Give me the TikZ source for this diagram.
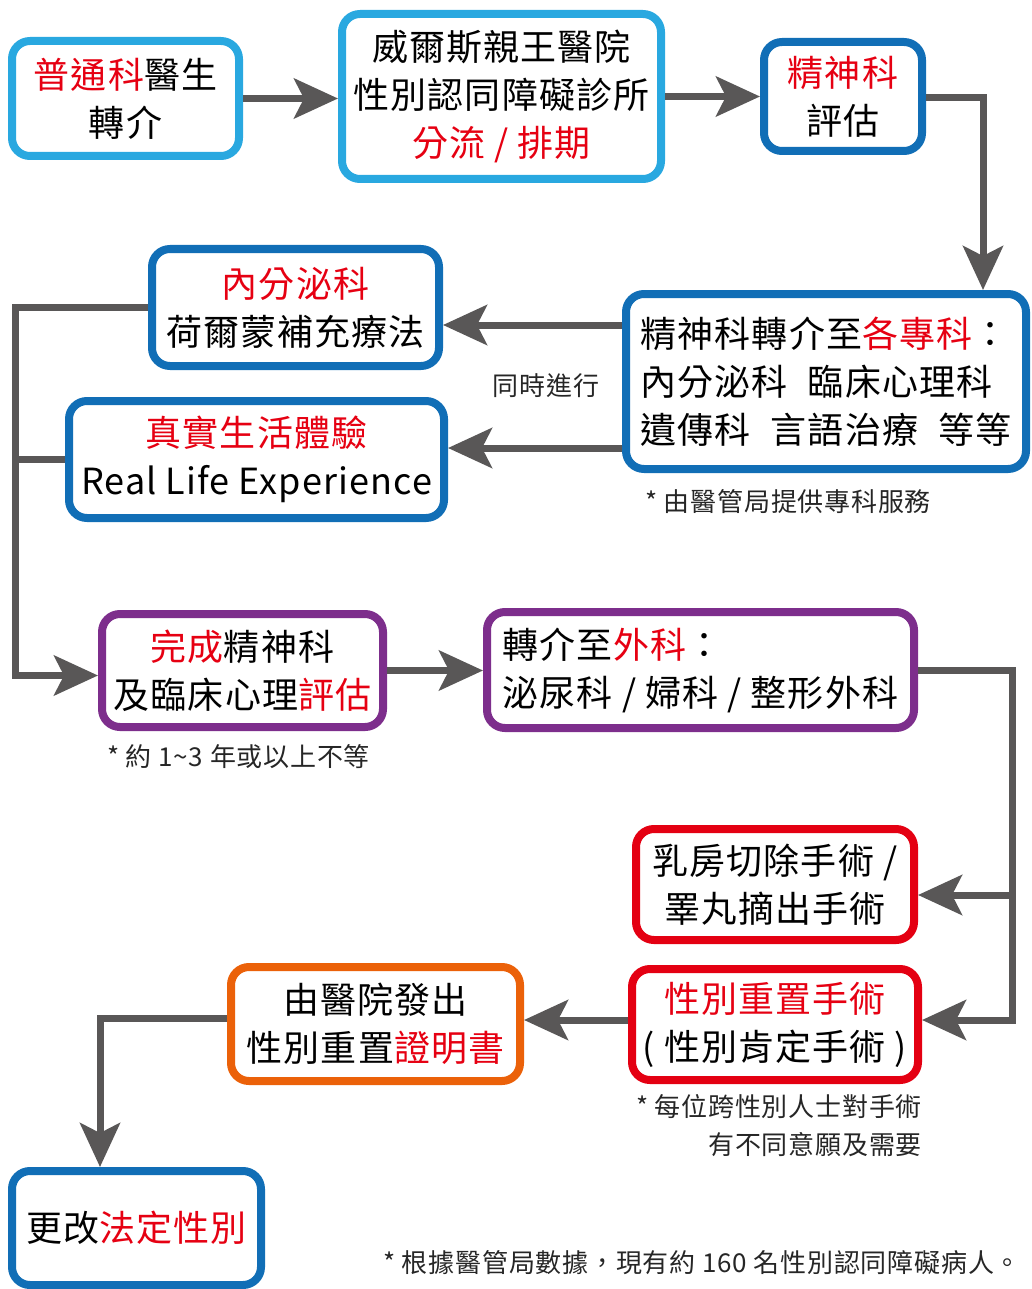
\documentclass[tikz,border=0pt]{standalone}
\usepackage{fontspec}
\setmainfont{Noto Sans CJK TC}[LetterSpace=3]
\usetikzlibrary{arrows.meta}
\definecolor{lblue}{RGB}{41,168,224}
\definecolor{dblue}{RGB}{17,110,182}
\definecolor{purp}{RGB}{125,46,140}
\definecolor{bred}{RGB}{228,0,18}
\definecolor{orng}{RGB}{235,97,9}
\definecolor{conncol}{RGB}{89,87,87}
\definecolor{tred}{RGB}{230,0,18}
\newcommand{\rd}[1]{\textcolor{tred}{#1}}
\newcommand{\gap}{\hspace{20pt}}
\begin{document}
\begin{tikzpicture}[x=1pt,y=-1pt,
  box/.style={draw=#1, line width=8pt, rounded corners=18pt, fill=white, inner sep=0pt, align=center, font=\fontsize{36}{48}\selectfont},
  link/.style={draw=conncol, line width=7pt},
  arr/.style={link, -{Stealth[length=44pt,width=40pt,inset=10pt]}},
  note/.style={font=\fontsize{26}{38}\selectfont, inner sep=0pt, text=black!85}
]
\useasboundingbox (0,0) rectangle (1031,1289);

% boxes
\node[box=lblue, minimum width=227pt, minimum height=115pt] (b1) at (125.5,98.5) {\rd{普通科}醫生\\轉介};
\node[box=lblue, minimum width=319pt, minimum height=165pt] (b2) at (501.5,96.5) {威爾斯親王醫院\\性別認同障礙診所\\\rd{分流 / 排期}};
\node[box=dblue, minimum width=158pt, minimum height=109pt] (b3) at (843,96.5) {\rd{精神科}\\評估};
\node[box=dblue, minimum width=400pt, minimum height=175pt, align=left] (b4) at (826,381.5) {精神科轉介至\rd{各專科}：\\內分泌科\gap 臨床心理科\\遺傳科\gap 言語治療\gap 等等};
\node[box=dblue, minimum width=287pt, minimum height=117pt] (b5) at (295.5,307.5) {\rd{內分泌科}\\荷爾蒙補充療法};
\node[box=dblue, minimum width=375pt, minimum height=117pt] (b6) at (256.5,459.5) {\rd{真實生活體驗}\\Real Life Experience};
\node[box=purp, minimum width=281pt, minimum height=113pt] (b7) at (242.5,670.5) {\rd{完成}精神科\\及臨床心理\rd{評估}};
\node[box=purp, minimum width=427pt, minimum height=116pt, align=left] (b8) at (700.5,670) {轉介至\rd{外科}：\\泌尿科 / 婦科 / 整形外科};
\node[box=bred, minimum width=278pt, minimum height=111pt] (b9) at (775,884.5) {乳房切除手術 /\\睪丸摘出手術};
\node[box=bred, minimum width=286pt, minimum height=111pt] (b10) at (775,1024.5) {\rd{性別重置手術}\\( 性別肯定手術 )};
\node[box=orng, minimum width=289pt, minimum height=114pt] (b11) at (375.5,1024) {由醫院發出\\性別重置\rd{證明書}};
\node[box=dblue, minimum width=249pt, minimum height=114pt] (b12) at (136.5,1228) {更改\rd{法定性別}};

% notes
\node[note] (n1) at (546,386) {同時進行};
\node[note, anchor=west] (n2) at (645,502) {* 由醫管局提供專科服務};
\node[note, anchor=west] (n3) at (107,757) {* 約 1\textasciitilde 3 年或以上不等};
\node[note, anchor=north east, align=right] (n4) at (922,1094) {* 每位跨性別人士對手術\\有不同意願及需要};
\node[note, anchor=east] (n5) at (1021,1263) {* 根據醫管局數據，現有約 160 名性別認同障礙病人。};

% bus coordinates
\coordinate (lbus) at (15,0);
\coordinate (rbus) at (1012,0);
\coordinate (dbus) at (983,0);

% connectors
\draw[arr] (b1.east) -- (b1.east -| b2.west);
\draw[arr] (b2.east) -- (b2.east -| b3.west);
\draw[arr] ([yshift=-1.5pt]b3.east) -| (b4.north -| dbus);
\draw[arr] ([yshift=56.5pt]b4.west) -- ([yshift=-17.5pt]b5.east);
\draw[arr] ([yshift=-66.5pt]b4.west) -- ([yshift=11.5pt]b6.east);
\draw[arr] (b5.west) -- (b5.west -| lbus) |- ([yshift=-5pt]b7.west);
\draw[link] (b6.west) -- (b6.west -| lbus);
\draw[arr] (b7.east) -- (b7.east -| b8.west);
\draw[arr] (b8.east) -| ([yshift=4.5pt]b10.east -| rbus) -- ([yshift=4.5pt]b10.east);
\draw[arr] ([yshift=-10.5pt]b9.east -| rbus) -- ([yshift=-10.5pt]b9.east);
\draw[arr] ([yshift=4.5pt]b10.west) -- ([yshift=4pt]b11.east);
\draw[arr] ([yshift=6pt]b11.west) -| ([xshift=-36.5pt]b12.north);
\end{tikzpicture}
\end{document}
